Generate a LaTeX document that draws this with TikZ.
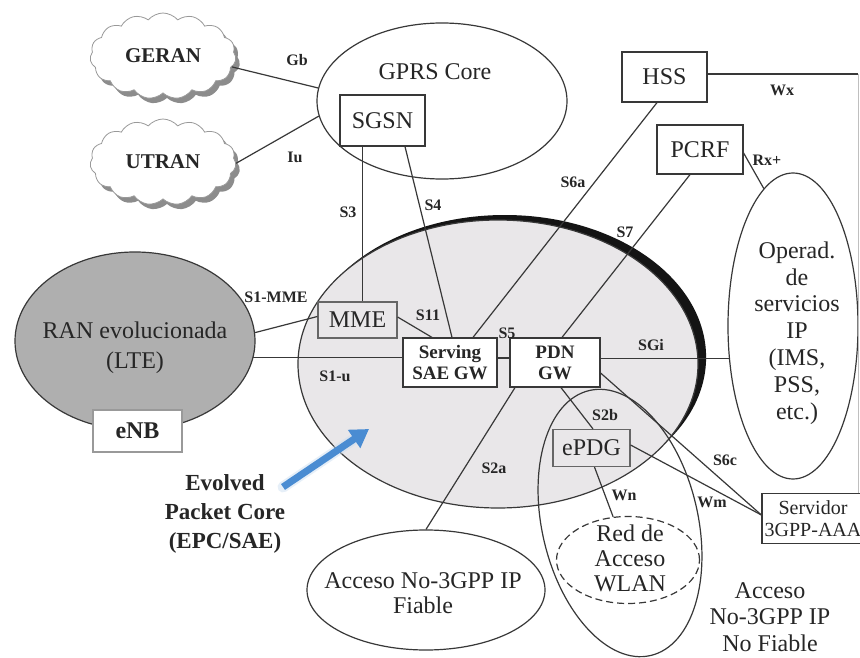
\documentclass[tikz,border=0pt]{standalone}
\usepackage{fontspec}
\setmainfont{Liberation Serif}
\usetikzlibrary{shapes.geometric,shapes.symbols,shadows,arrows.meta,calc}

\definecolor{linegray}{HTML}{383838}
\definecolor{epcfill}{HTML}{E9E7E9}
\definecolor{ranfill}{HTML}{AFAFAF}
\definecolor{arrowblue}{HTML}{4A8CD2}

\tikzset{
  conn/.style={draw=linegray, line width=1.2pt},
  faint/.style={draw=black!25, line width=0.8pt},
  oval/.style={ellipse, draw=linegray, line width=1.2pt, inner sep=0pt},
  txt/.style={inner sep=0pt, align=center, text=black!85, font=\fontsize{24}{27}\selectfont},
  box/.style={rectangle, draw=linegray, line width=1.2pt, inner sep=0pt, align=center,
              text=black!85, font=\fontsize{24}{27}\selectfont},
  gwbox/.style={box, fill=white, minimum width=92pt, minimum height=49pt,
              font=\fontsize{19}{21}\selectfont\bfseries},
  lbl/.style={inner sep=0pt, text=black!85, font=\fontsize{16}{18}\selectfont\bfseries},
  cloudnode/.style={cloud, cloud puffs=15, cloud puff arc=100, aspect=1.7,
              minimum width=146pt, minimum height=86pt, inner sep=0pt,
              draw=black!40, line width=0.8pt, fill=white, text=black!85,
              font=\fontsize{21}{24}\selectfont\bfseries,
              drop shadow={shadow xshift=4pt, shadow yshift=-5pt, fill=black!45, opacity=1}}
}

\begin{document}
\begin{tikzpicture}[x=1pt,y=1pt]
  \path[use as bounding box, fill=white] (0,0) rectangle (860,-658);

  % legacy radio access clouds
  \node[cloudnode] (geran) at (163,-56) {GERAN};
  \node[cloudnode] (utran) at (163,-162) {UTRAN};

  % GPRS core
  \node[oval, minimum width=250pt, minimum height=156pt] (gprs) at (442,-101) {};
  \node[txt] (gprstext) at (435,-72) {GPRS Core};

  % evolved RAN
  \node[oval, fill=ranfill, minimum width=240pt, minimum height=178pt] (ran) at (135,-341) {};
  \node[txt, font=\fontsize{24}{30}\selectfont] (rantext) at (135,-348) {RAN evolucionada\\(LTE)};

  % evolved packet core with its dark rim on the upper right
  \fill[black!92] (504.8,-357.3) ellipse [x radius=201.3, y radius=142.3];
  \node[oval, fill=epcfill, minimum width=400pt, minimum height=288pt] (epc) at (498,-364) {};

  % service operator and non-3GPP access areas
  \node[oval, minimum width=130pt, minimum height=306pt] (operad) at (793,-326) {};
  \node[txt, font=\fontsize{24}{26.8}\selectfont] (operadtext) at (797,-333)
       {Operad.\\de\\servicios\\IP\\(IMS,\\PSS,\\etc.)};

  \node[oval, minimum width=238pt, minimum height=120pt] (fiable) at (426,-590) {};
  \node[txt, font=\fontsize{24}{25}\selectfont] (fiabletext) at (423,-593) {Acceso No-3GPP IP\\Fiable};

  \node[oval, rotate=13, minimum width=156pt, minimum height=272pt] (nofiable) at (620,-523) {};
  \node[txt, font=\fontsize{24}{26.5}\selectfont] (nofiabletext) at (770,-617) {Acceso\\No-3GPP IP\\No Fiable};

  \node[oval, dashed, dash pattern=on 7pt off 4pt, minimum width=143pt, minimum height=87pt] (wlan) at (628,-560) {};
  \node[txt, font=\fontsize{24}{25}\selectfont] (wlantext) at (630,-558) {Red de\\Acceso\\WLAN};

  % functional entities
  \node[box, fill=white, minimum width=85pt, minimum height=51pt] (sgsn) at (382.5,-120.5) {SGSN};
  \node[box, fill=white, minimum width=85pt, minimum height=50pt] (hss) at (664.5,-77) {HSS};
  \node[box, fill=white, minimum width=86pt, minimum height=49pt] (pcrf) at (700,-149.5) {PCRF};
  \node[box, draw=black!60, minimum width=79pt, minimum height=36pt] (mme) at (357.5,-320) {MME};
  \node[gwbox, minimum width=94pt] (serving) at (450,-362.5) {Serving\\SAE GW};
  \node[gwbox, minimum width=90pt] (pdn) at (555,-362.5) {PDN\\GW};
  \node[box, draw=black!60, minimum width=77pt, minimum height=37pt] (epdg) at (591.5,-448) {ePDG};
  \node[box, fill=white, draw=black!40, minimum width=89pt, minimum height=42pt,
        font=\fontsize{24}{27}\selectfont\bfseries] (enb) at (137.5,-431) {eNB};
  \node[box, fill=white, minimum width=102pt, minimum height=50pt,
        font=\fontsize{20}{22}\selectfont] (aaa) at (813,-518.5) {Servidor\\3GPP-AAA};

  % interfaces
  \draw[conn] (geran.-9) -- (gprs.174);
  \draw[conn] (utran.-1) -- (gprs.187);
  \draw[conn] ([xshift=-20pt]sgsn.south) -- ([xshift=-20pt]sgsn.south |- mme.north);
  \draw[conn] ([xshift=22.5pt]sgsn.south) -- ([xshift=2pt]serving.north);
  \draw[conn] ([yshift=3pt]mme.east) -- ([xshift=-18pt]serving.north);
  \draw[conn] (ran.4) -- (mme.175);
  \draw[conn] (ran.-8) -- (ran.-8 -| serving.west);
  \draw[conn] ([yshift=4.5pt]serving.east) -- ([yshift=4.5pt]pdn.west);
  \draw[conn] (pdn.east |- operad.207) -- (operad.207);
  \draw[conn] ([xshift=-7.5pt]hss.south) -- ([xshift=23pt]serving.north);
  \draw[conn] ([xshift=-10pt]pcrf.south) -- ([xshift=7pt]pdn.north);
  \draw[conn] ([yshift=-3.5pt]pcrf.east) -- (operad.102);
  \coordinate (wxcorner) at (858,-74);
  \draw[conn] (hss.east |- wxcorner) -- (wxcorner);
  \draw[faint] (wxcorner) -- (wxcorner |- aaa.north);
  \draw[conn] ([xshift=-40pt]pdn.south) -- (fiable.north);
  \draw[conn] ([xshift=6pt]pdn.south) -- ([xshift=1.5pt]epdg.north);
  \draw[conn] ([yshift=-10.5pt]pdn.east) -- ([yshift=3.5pt]aaa.west);
  \draw[conn] ([yshift=3pt]epdg.east) -- ([yshift=3.5pt]aaa.west);
  \draw[conn] ([xshift=3pt]epdg.south) -- (wlan.109);

  % interface names
  \node[lbl] (lgb)   at (297,-60)  {Gb};
  \node[lbl] (liu)   at (295,-157) {Iu};
  \node[lbl] (ls3)   at (348,-212) {S3};
  \node[lbl] (ls4)   at (433,-205) {S4};
  \node[lbl] (ls1m)  at (276,-297) {S1-MME};
  \node[lbl] (ls1u)  at (335,-376) {S1-u};
  \node[lbl] (ls11)  at (428,-315) {S11};
  \node[lbl] (ls5)   at (507,-333) {S5};
  \node[lbl] (ls6a)  at (573,-182) {S6a};
  \node[lbl] (ls7)   at (625,-232) {S7};
  \node[lbl] (lsgi)  at (651,-345) {SGi};
  \node[lbl] (lwx)   at (782,-90)  {Wx};
  \node[lbl] (lrx)   at (767,-160) {Rx+};
  \node[lbl] (ls2b)  at (605,-415) {S2b};
  \node[lbl] (ls2a)  at (494,-468) {S2a};
  \node[lbl] (ls6c)  at (725,-460) {S6c};
  \node[lbl] (lwm)   at (712,-502) {Wm};
  \node[lbl] (lwn)   at (624,-495) {Wn};

  % core caption with pointer
  \node[txt, font=\fontsize{23}{29}\selectfont\bfseries] (epctext) at (225,-514)
       {Evolved\\Packet Core\\(EPC/SAE)};
  \coordinate (arrtail) at (283,-487);
  \coordinate (arrtip) at (369,-429);
  \draw[line width=11pt, arrowblue!30, opacity=0.45, line cap=round, shorten >=10pt] (arrtail) -- (arrtip);
  \draw[line width=7pt, arrowblue, -{Triangle[length=18pt, width=21pt]}] (arrtail) -- (arrtip);
\end{tikzpicture}
\end{document}
